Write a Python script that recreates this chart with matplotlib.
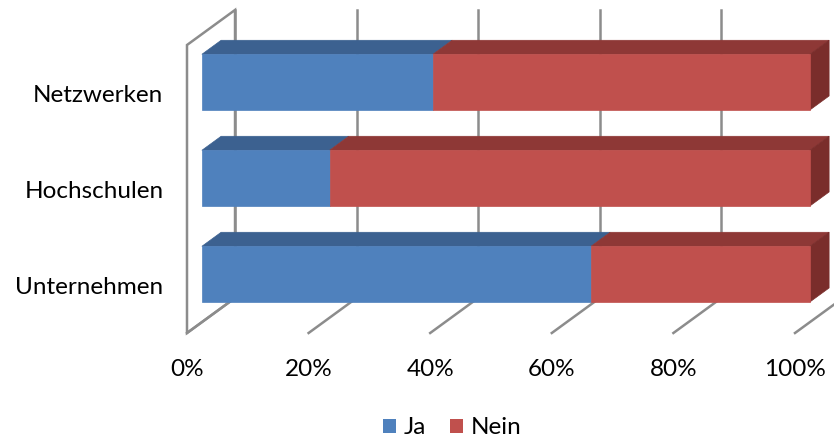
import matplotlib.pyplot as plt
from matplotlib.patches import Polygon, Patch

categories = ['Unternehmen', 'Hochschulen', 'Netzwerken']
series = ['Ja', 'Nein']
ja = [64, 21, 38]
nein = [36, 79, 62]
ticks = [0, 20, 40, 60, 80, 100]
tick_labels = ['0%', '20%', '40%', '60%', '80%', '100%']

# colours: front, top, side
colors = {
    'Ja': ('#4F81BD', '#3C6190', '#2F4D73'),
    'Nein': ('#C0504D', '#8E3836', '#7A2D2B'),
}
GRID = '#8C8C8C'

# oblique projection of the depth axis (full depth offset, in data units)
DX, DY = 7.9, 0.365
D0, D1 = 0.31, 0.71
BAR_H = 0.58
FS = 17.5


def proj(x, y, d):
    return (x + d * DX, y + d * DY)


plt.rcParams['font.family'] = ['Lato', 'DejaVu Sans']

fig = plt.figure(figsize=(8.34, 4.41), dpi=100)
ax = fig.add_axes([187 / 834, 108 / 441, 608 / 834, 288 / 441])
ax.set_xlim(0, 100)
ax.set_ylim(0, 3)
ax.patch.set_visible(False)
for s in ax.spines.values():
    s.set_visible(False)

n = len(categories)

# side wall outline
wall = [proj(0, 0, 0), proj(0, n, 0), proj(0, n, 1), proj(0, 0, 1)]
ax.add_patch(Polygon(wall, closed=True, fill=False, edgecolor=GRID, lw=1.8,
                     clip_on=False, zorder=1))

# back wall and floor gridlines
for t in ticks:
    p, q = proj(t, 0, 1), proj(t, n, 1)
    ax.plot([p[0], q[0]], [p[1], q[1]], color=GRID, lw=1.8, clip_on=False, zorder=1)
    p, q = proj(t, 0, 0), proj(t, 0, 1)
    ax.plot([p[0], q[0]], [p[1], q[1]], color=GRID, lw=1.8, clip_on=False, zorder=1)

# bars, drawn from the top category down
z = 2
for i in reversed(range(n)):
    y0 = i + 0.5 - BAR_H / 2
    y1 = y0 + BAR_H
    left = 0
    segs = [('Ja', ja[i]), ('Nein', nein[i])]
    for k, (name, v) in enumerate(segs):
        x0, x1 = left, left + v
        front, top, side = colors[name]
        ax.add_patch(Polygon([proj(x0, y1, D0), proj(x1, y1, D0), proj(x1, y1, D1), proj(x0, y1, D1)],
                             closed=True, facecolor=top, edgecolor=top, lw=0.5, clip_on=False, zorder=z))
        ax.add_patch(Polygon([proj(x0, y0, D0), proj(x1, y0, D0), proj(x1, y1, D0), proj(x0, y1, D0)],
                             closed=True, facecolor=front, edgecolor=front, lw=0.5, clip_on=False, zorder=z + 1))
        if k == len(segs) - 1:
            ax.add_patch(Polygon([proj(x1, y0, D0), proj(x1, y0, D1), proj(x1, y1, D1), proj(x1, y1, D0)],
                                 closed=True, facecolor=side, edgecolor=side, lw=0.5, clip_on=False, zorder=z))
        left = x1
    z += 2

ax.set_xticks(ticks, tick_labels)
ax.set_yticks([i + 0.5 for i in range(n)], categories)
ax.tick_params(axis='x', length=0, pad=19, labelsize=FS)
ax.tick_params(axis='y', length=0, pad=17, labelsize=FS)

handles = [Patch(facecolor=colors[s][0]) for s in series]
fig.legend(handles, series, loc='center', bbox_to_anchor=(452 / 834, 1 - 428 / 441), ncol=2,
           frameon=False, fontsize=FS, handlelength=0.55, handleheight=0.55,
           handletextpad=0.3, columnspacing=1.0)

fig.savefig('out.png', dpi=100)
